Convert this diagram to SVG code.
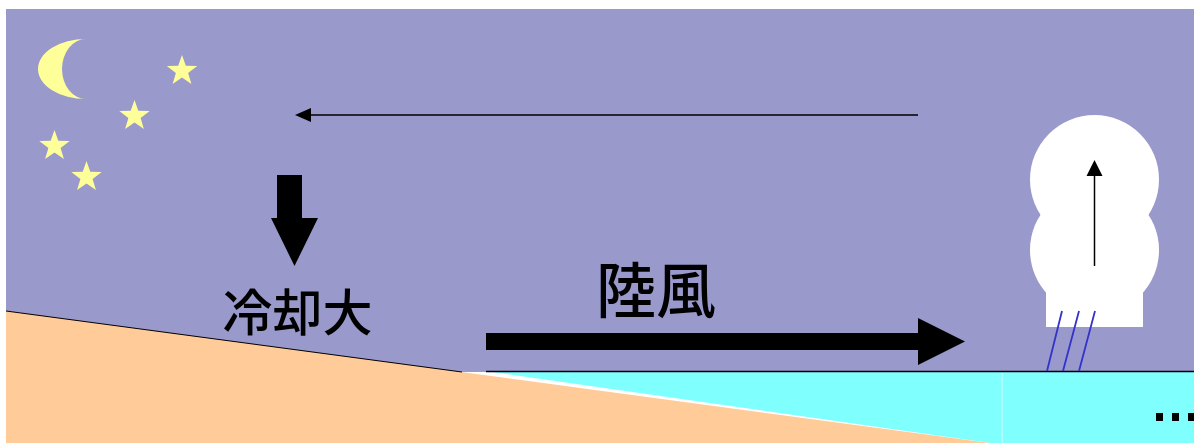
<svg xmlns="http://www.w3.org/2000/svg" width="1194" height="443" viewBox="0 0 1194 443">
  <style>
    .sky { fill: #9999CC; }
    .land { fill: #FFCC99; }
    .sea { fill: #80FFFF; }
    .glow { fill: #FFFF99; }
    .label { font-family: "Noto Sans CJK JP", "Noto Sans CJK SC", sans-serif; font-weight: 500; fill: #000; }
    .thin { stroke: #000; stroke-width: 1.5; fill: none; }
    .rain { stroke: #3333CC; stroke-width: 1.8; }
  </style>
  <defs>
    <polygon id="star" points="0,-16 3.8,-5.2 15.2,-4.9 6.1,2 9.4,12.9 0,6.5 -9.4,12.9 -6.1,2 -15.2,-4.9 -3.8,-5.2"/>
  </defs>

  <rect width="1194" height="443" fill="#FFFFFF"/>

  <!-- night sky -->
  <g id="sky">
    <rect class="sky" x="6" y="9" width="1188" height="363"/>
  </g>

  <!-- sea surface -->
  <g id="sea">
    <polygon class="sea" points="492,372 1194,372 1194,443 990,443"/>
    <line x1="1002" y1="373" x2="1002" y2="443" stroke="#D8FFFF" stroke-width="1"/>
    <line x1="486" y1="371.5" x2="1194" y2="371.5" stroke="#000" stroke-width="1.5"/>
  </g>

  <!-- land slope -->
  <g id="land">
    <polygon class="land" points="6,311 990,443 6,443"/>
    <line x1="6" y1="311" x2="462" y2="372" stroke="#000" stroke-width="1"/>
  </g>

  <!-- moon and stars -->
  <g id="moon">
    <path class="glow" d="M86,39 A48,30 0 0 0 86,99 A24,30 0 0 1 86,39 Z"/>
  </g>
  <g id="stars" class="glow">
    <use href="#star" x="182" y="71"/>
    <use href="#star" x="134.5" y="116"/>
    <use href="#star" x="54.5" y="146"/>
    <use href="#star" x="86.5" y="177"/>
  </g>

  <!-- convective cloud over the sea -->
  <g id="cloud">
    <circle cx="1094.5" cy="179.5" r="64.5" fill="#FFFFFF"/>
    <circle cx="1094.5" cy="250" r="64.5" fill="#FFFFFF"/>
    <rect x="1046" y="270" width="97" height="57" fill="#FFFFFF"/>
    <line class="rain" x1="1062" y1="311" x2="1047" y2="371"/>
    <line class="rain" x1="1079" y1="311" x2="1063" y2="371"/>
    <line class="rain" x1="1095" y1="311" x2="1079" y2="371"/>
  </g>

  <!-- labels -->
  <g id="cooling">
    <text class="label" x="297.5" y="331" font-size="50" text-anchor="middle">冷却大</text>
  </g>
  <g id="landBreeze">
    <text class="label" x="656" y="313" font-size="60" text-anchor="middle">陸風</text>
  </g>

  <!-- circulation arrows -->
  <g id="connectors">
    <!-- upper return flow -->
    <path d="M918,115 L310,115" class="thin"/>
    <path d="M295,115 L311,108 L311,122 Z" fill="#000"/>
    <!-- sinking over land -->
    <path d="M277,175 H302 V218 H318 L294.5,266 L271,218 H277 Z" fill="#000"/>
    <!-- surface land breeze -->
    <path d="M486,333 H918 V318 L965,341.5 L918,365 V350 H486 Z" fill="#000"/>
    <!-- rising air in the cloud -->
    <line class="thin" x1="1094.5" y1="266" x2="1094.5" y2="175"/>
    <path d="M1094.5,160 L1102.5,176 L1086.5,176 Z" fill="#000"/>
  </g>

  <!-- continuation dots -->
  <g id="dots" fill="#000">
    <rect x="1156" y="413" width="7" height="8"/>
    <rect x="1172" y="413" width="7" height="8"/>
    <rect x="1188" y="413" width="7" height="8"/>
  </g>
</svg>
